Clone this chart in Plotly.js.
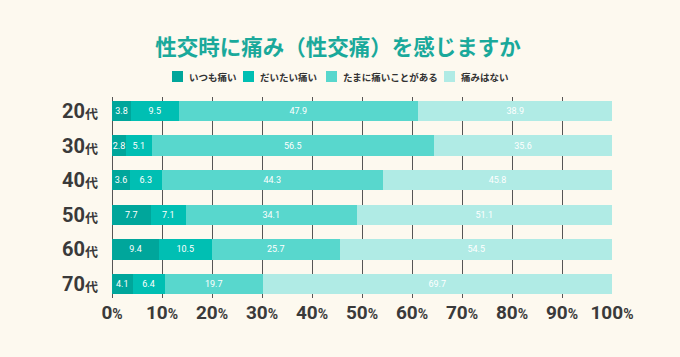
<!DOCTYPE html>
<html><head><meta charset="utf-8">
<script src="https://cdn.plot.ly/plotly-3.0.1.min.js"></script>
<style>html,body{margin:0;padding:0;background:#fdf9ef;}#chart{width:680px;height:357px;}</style>
</head><body><div id="chart"></div>
<script>
const categories = ['20代','30代','40代','50代','60代','70代'];
const seriesNames = ['いつも痛い','だいたい痛い','たまに痛いことがある','痛みはない'];
const always = [3.8, 2.8, 3.6, 7.7, 9.4, 4.1];
const mostly = [9.5, 5.1, 6.3, 7.1, 10.5, 6.4];
const sometimes = [47.9, 56.5, 44.3, 34.1, 25.7, 19.7];
const never = [38.9, 35.6, 45.8, 51.1, 54.5, 69.7];
const xTicks = [0,10,20,30,40,50,60,70,80,90,100];

const colors = ['#00a69b','#00bfb3','#58d7cd','#b0ebe5'];
const seriesValues = [always, mostly, sometimes, never];
const numFont = 'Roboto, "Noto Sans CJK JP", sans-serif';
const jpFont = '"Noto Sans CJK JP", sans-serif';

const traces = seriesValues.map((vals, i) => ({
  type: 'bar', orientation: 'h',
  name: seriesNames[i], x: vals, y: categories,
  marker: {color: colors[i], line: {width: 0}},
  texttemplate: '%{x:.1f}', textposition: 'inside', insidetextanchor: 'middle', textangle: 0,
  textfont: {color: '#ffffff', size: 9, family: numFont},
  hoverinfo: 'skip', showlegend: false
}));

// manual legend (layout positions in pixels, converted to paper coords)
const plotL = 112, plotW = 500, plotB = 298, plotH = 201;
const legX = [172, 243, 326, 444];
const legY = 76.5, sq = 11;
const px = v => (v - plotL) / plotW;
const py = v => (plotB - v) / plotH;
const shapes = legX.map((x, i) => ({
  type: 'rect', xref: 'paper', yref: 'paper',
  x0: px(x), x1: px(x + sq), y0: py(legY + sq / 2), y1: py(legY - sq / 2),
  fillcolor: colors[i], line: {width: 0}
}));
const annotations = legX.map((x, i) => ({
  xref: 'paper', yref: 'paper', x: px(x + sq + 4), y: py(legY), xanchor: 'left', yanchor: 'middle',
  text: '<b>' + seriesNames[i] + '</b>', showarrow: false,
  font: {family: jpFont, size: 9.5, color: '#333333'}
}));

const layout = {
  width: 680, height: 357,
  paper_bgcolor: '#fdf9ef', plot_bgcolor: '#fdf9ef',
  barmode: 'stack', bargap: 0.42,
  margin: {l: 112, r: 68, t: 97, b: 59},
  showlegend: false,
  title: {text: '<b>性交時に痛み（性交痛）を感じますか</b>', x: 0.497, xanchor: 'center', y: 0.868, yanchor: 'middle',
    font: {family: jpFont, size: 21.5, color: '#1aa99b'}},
  shapes: shapes, annotations: annotations,
  uniformtext: {mode: 'show', minsize: 9},
  xaxis: {range: [0, 100], tickvals: xTicks,
    ticktext: xTicks.map(v => '<b>' + v + '</b><span style="font-size:14px"><b>%</b></span>'),
    showgrid: true, gridcolor: '#555555', gridwidth: 1, zeroline: true, zerolinecolor: '#555555', zerolinewidth: 1,
    showline: false, ticks: '', ticklabelstandoff: 1, fixedrange: true,
    tickfont: {family: numFont, size: 19, color: '#3a3a3a'}},
  yaxis: {type: 'category', autorange: false, range: [5.4, -0.4],
    tickvals: categories,
    ticktext: categories.map(c => '<b>' + c.replace('代','') + '</b><span style="font-size:13px"><b>代</b></span>'),
    showgrid: false, zeroline: false, ticks: '', ticklabelstandoff: 13,
    tickfont: {family: numFont, size: 20, color: '#3a3a3a'}},
};

Plotly.newPlot('chart', traces, layout, {displayModeBar: false, staticPlot: true});
</script></body></html>
